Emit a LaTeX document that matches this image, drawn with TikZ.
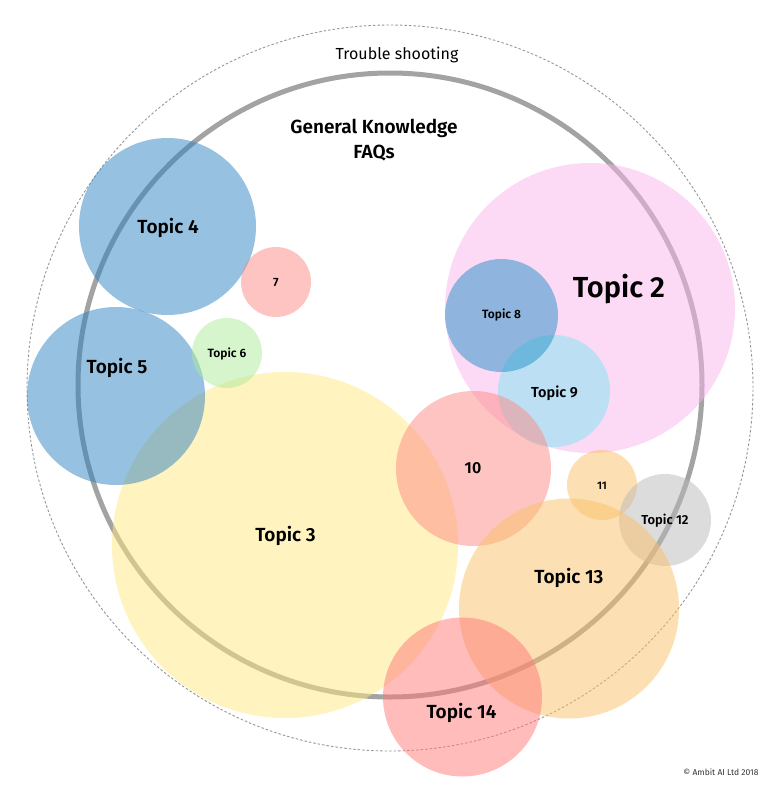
\documentclass[tikz,border=0pt]{standalone}
\usepackage{fontspec}
\setmainfont{Fira Sans}[BoldFont={Fira Sans SemiBold}]
\begin{document}
\begin{tikzpicture}[x=1pt,y=-1pt,
  bub/.style={circle,inner sep=0pt,outer sep=0pt,draw=none,fill opacity=0.5,minimum size=#1},
  lab/.style={anchor=base,inner sep=0pt,font=\bfseries},
]
\definecolor{cblue}{RGB}{47,131,193}
\definecolor{cblue8}{RGB}{35,145,198}
\definecolor{cblue9}{RGB}{126,231,245}
\definecolor{cred}{RGB}{252,138,134}
\definecolor{cred14}{RGB}{255,121,119}
\definecolor{cgreen}{RGB}{173,235,153}
\definecolor{cyellow}{RGB}{255,231,129}
\definecolor{cpink}{RGB}{249,179,235}
\definecolor{corange}{RGB}{250,192,103}
\definecolor{cgray}{RGB}{185,185,185}
\definecolor{ring}{RGB}{163,163,163}
\definecolor{dashc}{RGB}{150,150,150}
\useasboundingbox (0,0) rectangle (774,790);
% outer dashed circle
\node[circle,inner sep=0pt,minimum size=726pt,draw=dashc,line width=0.9pt,dash pattern=on 2.5pt off 2pt] (outer) at (390,388) {};
% thick ring
\node[circle,inner sep=0pt,minimum size=624pt,draw=ring,line width=5pt] (ring) at (390,385) {};
% bubbles
\node[bub=346pt,fill=cyellow] (t3) at (285,545) {};
\node[bub=177pt,fill=cblue] (t4) at (167.5,226.5) {};
\node[bub=178pt,fill=cblue] (t5) at (116,396) {};
\node[bub=70pt,fill=cred] (t7) at (276,282) {};
\node[bub=70pt,fill=cgreen] (t6) at (227,353) {};
\node[bub=290pt,fill=cpink] (t2) at (590,308) {};
\node[bub=112pt,fill=cblue9] (t9) at (554,391) {};
\node[bub=113pt,fill=cblue8] (t8) at (501.5,315.5) {};
\node[bub=155pt,fill=cred] (t10) at (473.5,468.5) {};
\node[bub=70pt,fill=corange] (t11) at (602,485) {};
\node[bub=92pt,fill=cgray] (t12) at (665,520) {};
\node[bub=220pt,fill=corange] (t13) at (569,608.5) {};
\node[bub=159pt,fill=cred14] (t14) at (462.5,697) {};
% labels
\node[anchor=base,inner sep=0pt,font=\fontsize{16}{19}\selectfont] (lts) at (397,59) {Trouble shooting};
\node[lab,font=\bfseries\fontsize{19}{24}\selectfont] (lgk) at (374,133) {General Knowledge};
\node[lab,font=\bfseries\fontsize{19}{24}\selectfont] (lfaq) at (374,158) {FAQs};
\node[lab,font=\bfseries\fontsize{19}{22}\selectfont] (l4) at (168,233) {Topic 4};
\node[lab,font=\bfseries\fontsize{19}{22}\selectfont] (l5) at (117,373) {Topic 5};
\node[lab,font=\bfseries\fontsize{19}{22}\selectfont] (l3) at (285.5,541) {Topic 3};
\node[lab,font=\bfseries\fontsize{29}{32}\selectfont] (l2) at (619,297) {Topic 2};
\node[lab,font=\bfseries\fontsize{12}{14}\selectfont] (l8) at (501.5,318.5) {Topic 8};
\node[lab,font=\bfseries\fontsize{14.5}{17}\selectfont] (l9) at (554.5,397) {Topic 9};
\node[lab,font=\bfseries\fontsize{16}{19}\selectfont] (l10) at (473,473) {10};
\node[lab,font=\bfseries\fontsize{11}{13}\selectfont] (l11) at (602,489) {11};
\node[lab,font=\bfseries\fontsize{13}{15}\selectfont] (l12) at (665,524.5) {Topic 12};
\node[lab,font=\bfseries\fontsize{19}{22}\selectfont] (l13) at (569,583) {Topic 13};
\node[lab,font=\bfseries\fontsize{19}{22}\selectfont] (l14) at (461.5,718) {Topic 14};
\node[lab,font=\bfseries\fontsize{12}{14}\selectfont] (l6) at (227,357) {Topic 6};
\node[lab,font=\bfseries\fontsize{12}{14}\selectfont] (l7) at (276,286) {7};
\node[anchor=base,inner sep=0pt,font=\fontsize{8.5}{10}\selectfont,text=black!80] (lc) at (721,775) {© Ambit AI Ltd 2018};
\end{tikzpicture}
\end{document}
